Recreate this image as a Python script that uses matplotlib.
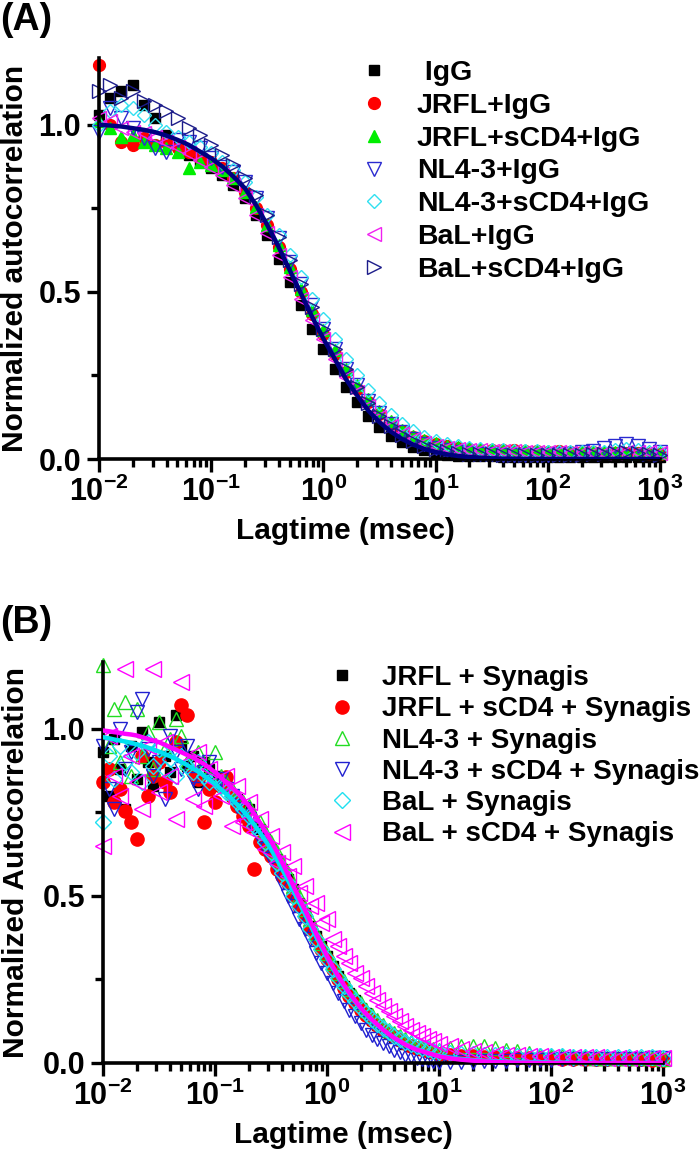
import matplotlib
matplotlib.use("Agg")
import matplotlib.pyplot as plt
from matplotlib.ticker import FixedLocator, LogLocator, NullFormatter

plt.rcParams['font.family'] = ['Liberation Sans', 'DejaVu Sans']
plt.rcParams['font.weight'] = 'bold'
plt.rcParams['mathtext.fontset'] = 'custom'
plt.rcParams['mathtext.bf'] = 'Liberation Sans:bold'
plt.rcParams['mathtext.rm'] = 'Liberation Sans:bold'

# ---------------- panel A data (lag time in msec) ----------------
lag_a = [0.01, 0.0126, 0.0158, 0.02, 0.0251, 0.0316, 0.0398, 0.0501, 0.0631, 0.0794,
         0.1, 0.126, 0.158, 0.2, 0.251, 0.316, 0.398, 0.501, 0.631, 0.794,
         1.0, 1.26, 1.58, 2.0, 2.51, 3.16, 3.98, 5.01, 6.31, 7.94,
         10, 12.6, 15.8, 20, 25.1, 31.6, 39.8, 50.1, 63.1, 79.4,
         100, 126, 158, 200, 251, 316, 398, 501, 631, 794, 1000]

igg = [1.03, 1.08, 1.10, 1.12, 1.06, 1.02, 0.97, 0.94, 0.91, 0.89,
       0.87, 0.85, 0.82, 0.78, 0.73, 0.67, 0.60, 0.53, 0.46, 0.39,
       0.33, 0.27, 0.215, 0.17, 0.13, 0.097, 0.07, 0.05, 0.036, 0.026,
       0.018, 0.013, 0.01, 0.009, 0.008, 0.008, 0.007, 0.007, 0.007, 0.006,
       0.006, 0.006, 0.006, 0.005, 0.005, 0.005, 0.005, 0.005, 0.005, 0.005, 0.005]
jrfl_igg = [1.18, 1.00, 0.95, 0.94, 0.96, 0.94, 0.95, 0.93, 0.92, 0.90,
            0.89, 0.87, 0.84, 0.80, 0.75, 0.70, 0.635, 0.57, 0.50, 0.435,
            0.375, 0.315, 0.26, 0.21, 0.17, 0.135, 0.105, 0.083, 0.066, 0.054,
            0.045, 0.038, 0.033, 0.03, 0.028, 0.027, 0.026, 0.027, 0.025, 0.024,
            0.022, 0.023, 0.021, 0.02, 0.021, 0.019, 0.018, 0.017, 0.018, 0.016, 0.015]
jrfl_scd4_igg = [1.01, 0.99, 0.965, 0.97, 0.95, 0.94, 0.93, 0.92, 0.87, 0.89,
                 0.88, 0.865, 0.84, 0.80, 0.755, 0.70, 0.64, 0.575, 0.51, 0.445,
                 0.385, 0.325, 0.27, 0.22, 0.18, 0.145, 0.113, 0.088, 0.07, 0.056,
                 0.047, 0.04, 0.035, 0.032, 0.03, 0.029, 0.028, 0.027, 0.026, 0.025,
                 0.024, 0.023, 0.022, 0.022, 0.021, 0.02, 0.02, 0.019, 0.019, 0.018, 0.018]
nl43_igg = [0.98, 1.05, 1.02, 0.99, 0.96, 0.93, 0.92, 0.955, 0.95, 0.93,
            0.90, 0.875, 0.86, 0.83, 0.78, 0.72, 0.66, 0.59, 0.525, 0.46,
            0.39, 0.33, 0.27, 0.22, 0.175, 0.138, 0.105, 0.08, 0.06, 0.045,
            0.034, 0.026, 0.02, 0.017, 0.015, 0.014, 0.013, 0.013, 0.012, 0.012,
            0.013, 0.014, 0.016, 0.02, 0.025, 0.032, 0.04, 0.045, 0.04, 0.03, 0.02]
nl43_scd4_igg = [1.00, 1.04, 1.06, 1.05, 1.03, 1.00, 0.98, 0.965, 0.95, 0.935,
                 0.915, 0.89, 0.865, 0.83, 0.785, 0.73, 0.67, 0.61, 0.545, 0.48,
                 0.42, 0.36, 0.30, 0.25, 0.205, 0.168, 0.133, 0.105, 0.083, 0.066,
                 0.054, 0.045, 0.038, 0.033, 0.03, 0.028, 0.026, 0.025, 0.024, 0.023,
                 0.022, 0.021, 0.021, 0.02, 0.02, 0.022, 0.026, 0.03, 0.028, 0.022, 0.02]
bal_igg = [1.02, 1.01, 0.99, 0.98, 0.975, 0.965, 0.95, 0.935, 0.915, 0.895,
           0.875, 0.85, 0.82, 0.78, 0.73, 0.675, 0.61, 0.545, 0.48, 0.415,
           0.36, 0.30, 0.245, 0.20, 0.16, 0.127, 0.098, 0.076, 0.06, 0.048,
           0.04, 0.034, 0.03, 0.028, 0.026, 0.025, 0.024, 0.023, 0.022, 0.021,
           0.02, 0.02, 0.019, 0.019, 0.018, 0.018, 0.018, 0.02, 0.022, 0.02, 0.017]
bal_scd4_igg = [1.10, 1.12, 1.08, 1.10, 1.07, 1.06, 1.04, 1.02, 0.99, 0.97,
                0.94, 0.91, 0.88, 0.84, 0.79, 0.73, 0.665, 0.595, 0.525, 0.455,
                0.39, 0.33, 0.27, 0.215, 0.168, 0.13, 0.098, 0.073, 0.054, 0.04,
                0.03, 0.023, 0.018, 0.016, 0.015, 0.014, 0.013, 0.013, 0.012, 0.012,
                0.012, 0.012, 0.012, 0.013, 0.014, 0.016, 0.018, 0.02, 0.018, 0.015, 0.013]
fit_a = [1.00, 0.998, 0.995, 0.99, 0.985, 0.978, 0.968, 0.955, 0.94, 0.92,
         0.90, 0.875, 0.845, 0.81, 0.76, 0.70, 0.635, 0.565, 0.495, 0.425,
         0.36, 0.30, 0.24, 0.19, 0.145, 0.11, 0.082, 0.06, 0.043, 0.03,
         0.021, 0.014, 0.009, 0.006, 0.004, 0.002, 0.001, 0.001, 0, 0,
         0, 0, 0, 0, 0, 0, 0, 0, 0, 0, 0]

labels_a = [" IgG", "JRFL+IgG", "JRFL+sCD4+IgG", "NL4-3+IgG",
            "NL4-3+sCD4+IgG", "BaL+IgG", "BaL+sCD4+IgG"]

# ---------------- panel B data ----------------
lag_b = [0.01, 0.0112, 0.0126, 0.0141, 0.0158, 0.0178, 0.02, 0.0224, 0.0251, 0.0282,
         0.0316, 0.0355, 0.0398, 0.0447, 0.0501, 0.0562, 0.0631, 0.0708, 0.0794, 0.0891,
         0.1, 0.112, 0.126, 0.141, 0.158, 0.178, 0.2, 0.224, 0.251, 0.282,
         0.316, 0.355, 0.398, 0.447, 0.501, 0.562, 0.631, 0.708, 0.794, 0.891,
         1.0, 1.12, 1.26, 1.41, 1.58, 1.78, 2.0, 2.24, 2.51, 2.82,
         3.16, 3.55, 3.98, 4.47, 5.01, 5.62, 6.31, 7.08, 7.94, 8.91,
         10,
         12.6, 15.8, 20, 25.1, 31.6, 39.8, 50.1, 63.1, 79.4, 100,
         126, 158, 200, 251, 316, 398, 501, 631, 794, 1000]

jrfl_syn = [0.93, 0.80, 0.97, 0.88, 0.76, 0.95, 0.85, 0.99, 0.90, 0.83,
            1.02, 0.92, 0.87, 1.04, 0.95, 0.89, 0.92, 0.84, 0.90, 0.88, 0.86,
            0.83, 0.85, 0.80, 0.79, 0.76, 0.76, 0.71, 0.70, 0.67, 0.64,
            0.61, 0.58, 0.55, 0.52, 0.48, 0.45, 0.41, 0.38, 0.35, 0.32,
            0.29, 0.26, 0.23, 0.21, 0.19, 0.165, 0.15, 0.13, 0.115, 0.10,
            0.09, 0.078, 0.068, 0.058, 0.05, 0.045, 0.04, 0.035, 0.03, 0.027,
            0.022, 0.02, 0.018, 0.017, 0.016, 0.015, 0.014, 0.013, 0.012, 0.012,
            0.011, 0.011, 0.01, 0.01, 0.01, 0.01, 0.009, 0.009, 0.008, 0.008]
jrfl_scd4_syn = [0.84, 0.88, 0.78, 0.82, 0.755, 0.72, 0.67, 0.92, 0.80, 0.86,
                 0.90, 0.84, 0.81, 0.96, 1.07, 1.04, 0.87, 0.85, 0.72, 0.82, 0.78,
                 0.83, 0.855, 0.80, 0.77, 0.74, 0.71, 0.58, 0.66, 0.64, 0.62,
                 0.58, 0.56, 0.54, 0.50, 0.47, 0.44, 0.40, 0.37, 0.34, 0.31,
                 0.28, 0.25, 0.225, 0.20, 0.18, 0.16, 0.145, 0.128, 0.113, 0.10,
                 0.09, 0.08, 0.07, 0.06, 0.052, 0.046, 0.041, 0.036, 0.032, 0.028,
                 0.024, 0.022, 0.02, 0.019, 0.018, 0.017, 0.016, 0.015, 0.014, 0.014,
                 0.013, 0.013, 0.012, 0.012, 0.012, 0.011, 0.011, 0.011, 0.01, 0.01]
nl43_syn = [1.19, 0.95, 1.06, 0.90, 1.08, 0.86, 1.06, 0.92, 0.99, 0.88,
            1.02, 0.94, 0.97, 1.03, 0.98, 0.90, 0.91, 0.93, 0.89, 0.87, 0.93,
            0.86, 0.84, 0.82, 0.80, 0.78, 0.77, 0.74, 0.72, 0.69, 0.66,
            0.63, 0.60, 0.57, 0.53, 0.50, 0.46, 0.43, 0.39, 0.36, 0.33,
            0.30, 0.27, 0.245, 0.22, 0.20, 0.18, 0.16, 0.145, 0.13, 0.115,
            0.10, 0.09, 0.08, 0.072, 0.064, 0.058, 0.052, 0.047, 0.043, 0.04,
            0.045, 0.05, 0.052, 0.05, 0.045, 0.04, 0.035, 0.03, 0.025, 0.022,
            0.02, 0.018, 0.017, 0.016, 0.016, 0.015, 0.015, 0.014, 0.014, 0.013]
nl43_scd4_syn = [0.95, 0.82, 0.76, 1.00, 0.88, 0.93, 1.05, 1.09, 0.94, 0.86,
                 0.90, 0.79, 0.98, 0.93, 0.88, 0.95, 0.85, 0.82, 0.87, 0.90, 0.84,
                 0.85, 0.82, 0.80, 0.77, 0.76, 0.73, 0.70, 0.67, 0.64, 0.61,
                 0.58, 0.54, 0.50, 0.47, 0.43, 0.40, 0.37, 0.33, 0.30, 0.27,
                 0.24, 0.21, 0.185, 0.16, 0.14, 0.12, 0.10, 0.085, 0.072, 0.06,
                 0.05, 0.04, 0.032, 0.025, 0.02, 0.015, 0.011, 0.008, 0.006, 0.004,
                 0.003, 0.003, 0.004, 0.005, 0.006, 0.007, 0.008, 0.009, 0.01, 0.01,
                 0.011, 0.011, 0.012, 0.012, 0.012, 0.013, 0.013, 0.013, 0.014, 0.014]
bal_syn = [0.72, 0.92, 0.85, 0.95, 0.90, 0.87, 0.93, 0.84, 0.96, 0.89,
           0.94, 0.88, 0.91, 0.86, 0.92, 0.89, 0.87, 0.90, 0.86, 0.84, 0.85,
           0.83, 0.81, 0.80, 0.78, 0.76, 0.74, 0.71, 0.69, 0.66, 0.63,
           0.60, 0.57, 0.54, 0.50, 0.47, 0.44, 0.40, 0.37, 0.34, 0.31,
           0.28, 0.255, 0.23, 0.205, 0.185, 0.165, 0.15, 0.133, 0.118, 0.105,
           0.093, 0.082, 0.072, 0.064, 0.057, 0.051, 0.046, 0.041, 0.037, 0.034,
           0.03, 0.028, 0.026, 0.025, 0.024, 0.023, 0.022, 0.021, 0.021, 0.02,
           0.02, 0.019, 0.019, 0.018, 0.018, 0.018, 0.017, 0.017, 0.017, 0.016]
bal_scd4_syn = [0.65, 0.98, 0.86, 0.80, 1.18, 0.92, 0.84, 0.76, 0.95, 1.18,
                0.81, 0.96, 0.86, 0.73, 1.14, 0.90, 0.79, 0.93, 0.77, 0.88, 0.84,
                0.80, 0.86, 0.71, 0.83, 0.72, 0.78, 0.69, 0.73, 0.64, 0.68,
                0.60, 0.63, 0.56, 0.59, 0.51, 0.53, 0.47, 0.48, 0.42, 0.43,
                0.37, 0.35, 0.32, 0.30, 0.27, 0.255, 0.23, 0.21, 0.19, 0.17,
                0.155, 0.14, 0.125, 0.11, 0.10, 0.09, 0.08, 0.072, 0.065, 0.058,
                0.05, 0.043, 0.036, 0.032, 0.028, 0.025, 0.023, 0.021, 0.02, 0.019,
                0.018, 0.018, 0.017, 0.017, 0.016, 0.016, 0.016, 0.015, 0.015, 0.015]
fit_b_magenta = [0.995, 0.993, 0.99, 0.988, 0.985, 0.983, 0.98, 0.975, 0.97, 0.965,
                 0.96, 0.953, 0.945, 0.938, 0.93, 0.922, 0.915, 0.905, 0.895, 0.883,
                 0.87, 0.855, 0.84, 0.825, 0.81, 0.79, 0.77, 0.745, 0.72, 0.693,
                 0.665, 0.633, 0.60, 0.565, 0.53, 0.495, 0.46, 0.425, 0.39, 0.355,
                 0.32, 0.29, 0.26, 0.235, 0.21, 0.187, 0.165, 0.147, 0.13, 0.115,
                 0.10, 0.087, 0.075, 0.065, 0.055, 0.047, 0.04, 0.035, 0.03, 0.025,
                 0.02,
                 0.014, 0.01, 0.007, 0.005, 0.003, 0.002, 0.001, 0.001, 0, 0,
                 0, 0, 0, 0, 0, 0, 0, 0, 0, 0]
fit_b_cyan = [0.975, 0.972, 0.968, 0.965, 0.962, 0.958, 0.954, 0.949, 0.944, 0.938,
              0.932, 0.925, 0.918, 0.91, 0.901, 0.892, 0.882, 0.872, 0.86, 0.848,
              0.835, 0.82, 0.805, 0.79, 0.773, 0.755, 0.735, 0.713, 0.69, 0.665,
              0.64, 0.61, 0.58, 0.548, 0.515, 0.482, 0.448, 0.414, 0.38, 0.347,
              0.315, 0.285, 0.256, 0.23, 0.206, 0.184, 0.163, 0.145, 0.128, 0.113,
              0.099, 0.087, 0.076, 0.066, 0.057, 0.049, 0.042, 0.036, 0.031, 0.026,
              0.022,
              0.016, 0.012, 0.009, 0.007, 0.005, 0.004, 0.003, 0.002, 0.002, 0.001,
              0.001, 0, 0, 0, 0, 0, 0, 0, 0, 0]

labels_b = ["JRFL + Synagis", "JRFL + sCD4 + Synagis", "NL4-3 + Synagis",
            "NL4-3 + sCD4 + Synagis", "BaL + Synagis", "BaL + sCD4 + Synagis"]

xticks = [0.01, 0.1, 1, 10, 100, 1000]
xticklabels = [r'$\mathbf{10^{-2}}$', r'$\mathbf{10^{-1}}$', r'$\mathbf{10^{0}}$',
               r'$\mathbf{10^{1}}$', r'$\mathbf{10^{2}}$', r'$\mathbf{10^{3}}$']
yticks = [0.0, 0.5, 1.0]
yticklabels = ["0.0", "0.5", "1.0"]


def style_axes(ax):
    ax.set_xscale('log')
    ax.set_xlim(0.01, 1000)
    ax.set_ylim(0, 1.2)
    for s in ['top', 'right']:
        ax.spines[s].set_visible(False)
    for s in ['left', 'bottom']:
        ax.spines[s].set_linewidth(2.6)
    ax.xaxis.set_major_locator(FixedLocator(xticks))
    ax.set_xticklabels(xticklabels)
    ax.xaxis.set_minor_locator(LogLocator(base=10, subs=range(2, 10), numticks=20))
    ax.xaxis.set_minor_formatter(NullFormatter())
    ax.set_yticks(yticks)
    ax.set_yticklabels(yticklabels)
    ax.yaxis.set_minor_locator(FixedLocator([0.25, 0.75]))
    ax.tick_params(which='major', length=9, width=2.4, labelsize=22, pad=4)
    ax.tick_params(which='minor', length=5.5, width=2.4)
    for t in ax.get_yticklabels():
        t.set_fontweight('bold')


fig = plt.figure(figsize=(7, 11.58), dpi=100)

# ---------------- (A) ----------------
axA = fig.add_axes([99 / 700, 1 - 459 / 1158, 561 / 700, 401 / 1158])
style_axes(axA)
series_a = [igg, jrfl_igg, jrfl_scd4_igg, nl43_igg, nl43_scd4_igg, bal_igg, bal_scd4_igg]
styles_a = [
    dict(marker='s', ms=6.5, mfc='black', mec='black'),
    dict(marker='o', ms=8.5, mfc='#ff0000', mec='#ff0000'),
    dict(marker='^', ms=8.5, mfc='#00ee00', mec='#00ee00'),
    dict(marker='v', ms=9.5, mfc='none', mec='#2a2ad0', mew=1.0),
    dict(marker='D', ms=7.5, mfc='none', mec='#30e0f0', mew=1.0),
    dict(marker='<', ms=9.5, mfc='none', mec='#f020f0', mew=1.0),
    dict(marker='>', ms=10.5, mfc='none', mec='#1c1c8a', mew=1.0),
]
for vals, st, lab in zip(series_a, styles_a, labels_a):
    axA.plot(lag_a, vals, linestyle='none', label=lab, clip_on=False, **st)
axA.plot(lag_a, fit_a, color='#000080', lw=3.2, zorder=5)

axA.legend(loc='upper left', bbox_to_anchor=(360 / 700, 1 - 60 / 1158),
           bbox_transform=fig.transFigure, frameon=False, fontsize=20.5,
           handlelength=1.0, handletextpad=1.0, labelspacing=0.24,
           borderpad=0, borderaxespad=0, numpoints=1)
axA.set_xlabel("Lagtime (msec)", fontsize=21.5, fontweight='bold')
axA.set_ylabel("Normalized autocorrelation", fontsize=21.5, fontweight='bold')
axA.xaxis.set_label_coords(0.44, -0.145)
axA.yaxis.set_label_coords(-0.125, 0.5)
fig.text(0.0, 1 - 20 / 1158, "(A)", fontsize=27, fontweight='bold', va='center', ha='left')

# ---------------- (B) ----------------
axB = fig.add_axes([103 / 700, 1 - 1063 / 1158, 560 / 700, 401 / 1158])
style_axes(axB)
series_b = [jrfl_syn, jrfl_scd4_syn, nl43_syn, nl43_scd4_syn, bal_syn, bal_scd4_syn]
styles_b = [
    dict(marker='s', ms=6.5, mfc='black', mec='black'),
    dict(marker='o', ms=9.5, mfc='#ff0000', mec='#ff0000'),
    dict(marker='^', ms=10, mfc='none', mec='#22dd22', mew=1.0),
    dict(marker='v', ms=10, mfc='none', mec='#2020d0', mew=1.0),
    dict(marker='D', ms=8.5, mfc='none', mec='#20e0f0', mew=1.0),
    dict(marker='<', ms=12, mfc='none', mec='#ff00ff', mew=1.0),
]
for vals, st, lab in zip(series_b, styles_b, labels_b):
    axB.plot(lag_b, vals, linestyle='none', label=lab, clip_on=False, **st)
axB.plot(lag_b, fit_b_cyan, color='#00e0f0', lw=3.2, zorder=5)
axB.plot(lag_b, fit_b_magenta, color='#ff00ff', lw=3.2, zorder=6)

axB.legend(loc='upper left', bbox_to_anchor=(328 / 700, 1 - 665 / 1158),
           bbox_transform=fig.transFigure, frameon=False, fontsize=20,
           handlelength=1.0, handletextpad=0.95, labelspacing=0.19,
           borderpad=0, borderaxespad=0, numpoints=1)
axB.set_xlabel("Lagtime (msec)", fontsize=21.5, fontweight='bold')
axB.set_ylabel("Normalized Autocorrelation", fontsize=21.5, fontweight='bold')
axB.xaxis.set_label_coords(0.43, -0.145)
axB.yaxis.set_label_coords(-0.13, 0.5)
fig.text(0.0, 1 - 623 / 1158, "(B)", fontsize=27, fontweight='bold', va='center', ha='left')

fig.savefig("out.png", dpi=100)
